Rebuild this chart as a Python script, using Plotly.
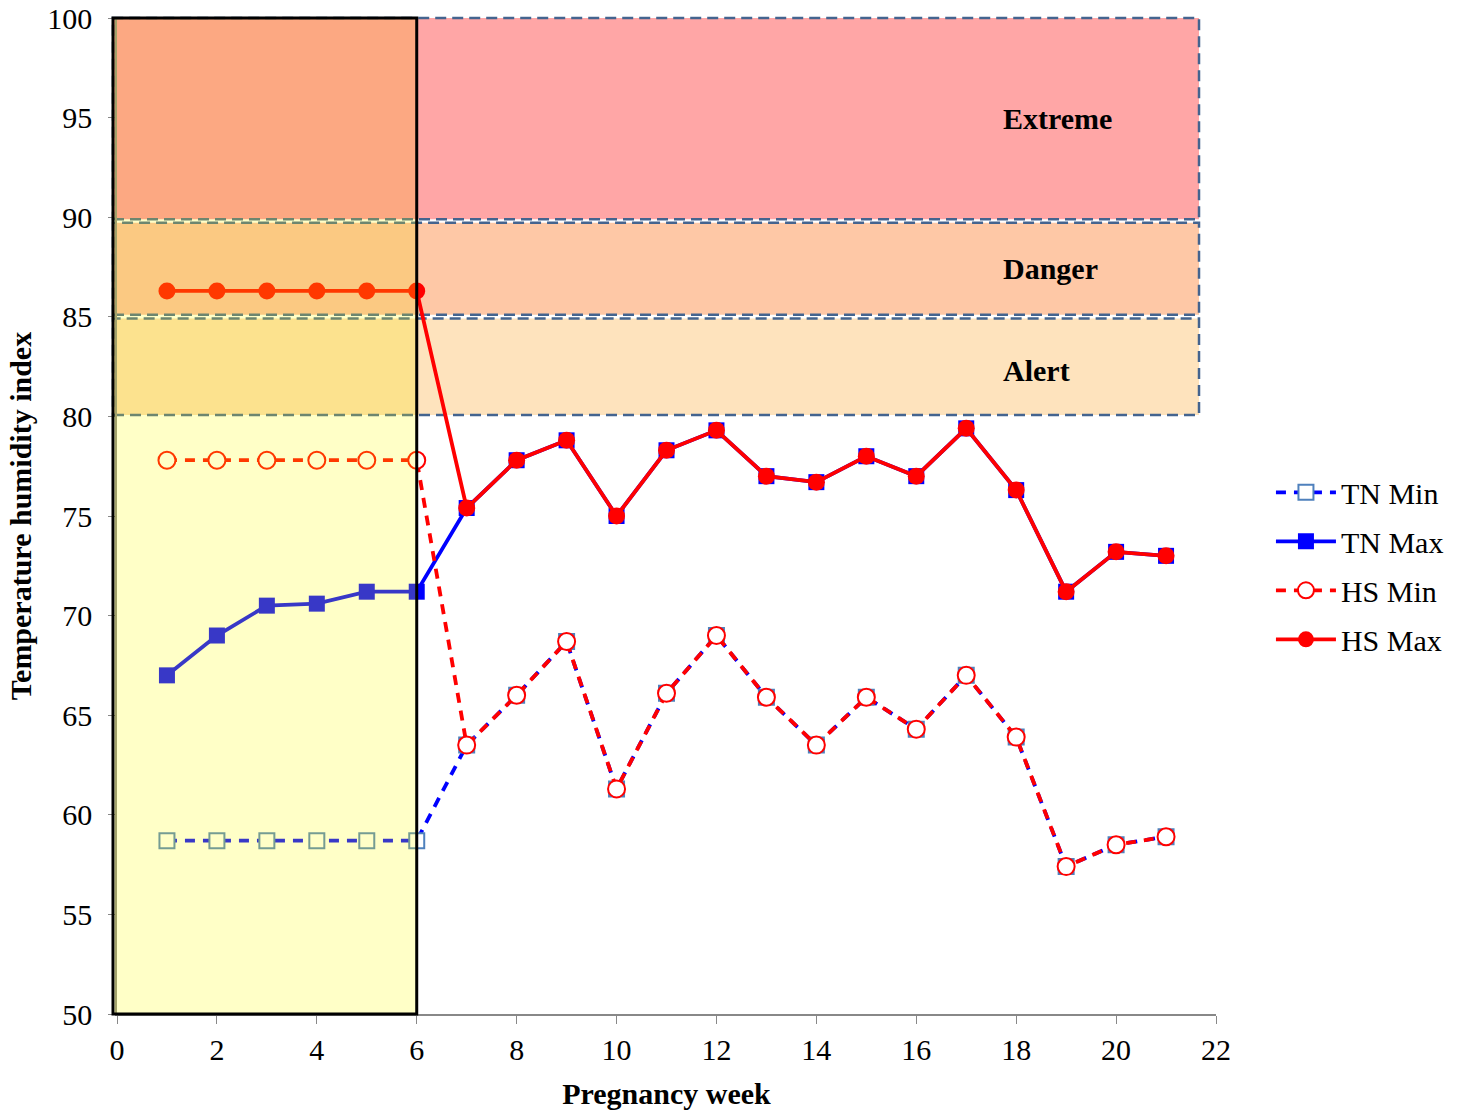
import plotly.graph_objects as go

weeks = list(range(1, 22))
tn_min = [58.7, 58.7, 58.7, 58.7, 58.7, 58.7,
          63.5, 66.0, 68.7, 61.3, 66.1, 69.0, 65.9, 63.5, 65.9, 64.3, 67.0, 63.9, 57.4, 58.5, 58.9]
tn_max = [67.0, 69.0, 70.5, 70.6, 71.2, 71.2,
          75.4, 77.8, 78.8, 75.0, 78.3, 79.3, 77.0, 76.7, 78.0, 77.0, 79.4, 76.3, 71.2, 73.2, 73.0]
hs_min = [77.8, 77.8, 77.8, 77.8, 77.8, 77.8,
          63.5, 66.0, 68.7, 61.3, 66.1, 69.0, 65.9, 63.5, 65.9, 64.3, 67.0, 63.9, 57.4, 58.5, 58.9]
hs_max = [86.3, 86.3, 86.3, 86.3, 86.3, 86.3,
          75.4, 77.8, 78.8, 75.0, 78.3, 79.3, 77.0, 76.7, 78.0, 77.0, 79.4, 76.3, 71.2, 73.2, 73.0]

# THI zones: name, lower, upper, colour (outside / inside the highlighted period)
zone_names = ["Extreme", "Danger", "Alert"]
zone_low = [89.9, 85.1, 80.07]
zone_high = [100.0, 89.72, 84.92]
zone_color = ["#ffa6a6", "#fec8a6", "#fee3bd"]
zone_color_in = ["#fb90a7", "#fabaa7", "#fcdab7"]
zone_label_y = [94.95, 87.4, 82.3]
zone_label_x = 17.7
zone_right = 21.66
period_start, period_end = -0.08, 6

XMIN, XMAX, YMIN, YMAX = 0, 22, 50, 100
def px_(v): return (v - XMIN) / (XMAX - XMIN)
def py_(v): return (v - YMIN) / (YMAX - YMIN)

FONT = "Liberation Serif"
FS = 30
LW = 3.8
fig = go.Figure()

fig.add_trace(go.Scatter(x=weeks, y=tn_min, name="TN Min", mode="lines+markers",
                         line=dict(color="#0000ff", width=LW, dash="10px,8px"),
                         marker=dict(symbol="square", size=15, color="white",
                                     line=dict(color="#4f81bd", width=2)),
                         legendgroup="a"))
fig.add_trace(go.Scatter(x=weeks, y=tn_max, name="TN Max", mode="lines+markers",
                         line=dict(color="#0000ff", width=LW),
                         marker=dict(symbol="square", size=16, color="#0000ff"),
                         legendgroup="b"))
fig.add_trace(go.Scatter(x=weeks, y=hs_min, name="HS Min", mode="lines+markers",
                         line=dict(color="#ff0000", width=LW, dash="10px,8px"),
                         marker=dict(symbol="circle", size=17, color="white",
                                     line=dict(color="#ff0000", width=2)),
                         legendgroup="c"))
fig.add_trace(go.Scatter(x=weeks, y=hs_max, name="HS Max", mode="lines+markers",
                         line=dict(color="#ff0000", width=LW),
                         marker=dict(symbol="circle", size=17, color="#ff0000"),
                         legendgroup="d"))

shapes = []
for lo, hi, c, ci in zip(zone_low, zone_high, zone_color, zone_color_in):
    shapes.append(dict(type="rect", xref="paper", yref="paper", layer="below",
                       x0=px_(period_end), x1=px_(zone_right), y0=py_(lo), y1=py_(hi),
                       fillcolor=c, line=dict(width=0)))
    shapes.append(dict(type="rect", xref="paper", yref="paper", layer="below",
                       x0=px_(period_start), x1=px_(period_end), y0=py_(lo), y1=py_(hi),
                       fillcolor=ci, line=dict(width=0)))
for lo, hi in zip(zone_low, zone_high):
    shapes.append(dict(type="rect", xref="paper", yref="paper", layer="below",
                       x0=px_(period_start), x1=px_(zone_right), y0=py_(lo), y1=py_(hi),
                       fillcolor="rgba(0,0,0,0)",
                       line=dict(color="#44648f", width=2.5, dash="11px,6px")))
shapes.append(dict(type="rect", xref="paper", yref="paper", layer="above",
                   x0=px_(period_start), x1=px_(period_end), y0=0, y1=1,
                   fillcolor="rgba(255,255,0,0.22)", line=dict(width=0)))
shapes.append(dict(type="rect", xref="paper", yref="paper", layer="above",
                   x0=px_(period_start), x1=px_(period_end), y0=0, y1=1,
                   fillcolor="rgba(0,0,0,0)", line=dict(color="black", width=3)))

annotations = []
for name, ly in zip(zone_names, zone_label_y):
    annotations.append(dict(x=zone_label_x, y=ly, xref="x", yref="y", text="<b>%s</b>" % name,
                            showarrow=False, xanchor="left", yanchor="middle",
                            font=dict(family=FONT, size=FS, color="black")))

fig.update_layout(
    width=1466, height=1110,
    margin=dict(l=117, r=250, t=18, b=96, autoexpand=False),
    plot_bgcolor="white", paper_bgcolor="white",
    font=dict(family=FONT, size=FS, color="black"),
    shapes=shapes, annotations=annotations,
    showlegend=True,
    legend=dict(x=1.05, xanchor="left", y=0.45, yanchor="middle",
                font=dict(family=FONT, size=FS, color="black"),
                itemwidth=60,
                tracegroupgap=7, bgcolor="rgba(0,0,0,0)", traceorder="grouped"),
    xaxis=dict(range=[XMIN, XMAX], tickvals=list(range(0, 23, 2)), showgrid=False, zeroline=False,
               showline=True, linecolor="#888888", linewidth=1.5, ticks="outside", ticklen=8,
               tickcolor="#888888", tickfont=dict(family=FONT, size=FS),
               title=dict(text="<b>Pregnancy week</b>", font=dict(family=FONT, size=FS), standoff=24)),
    yaxis=dict(range=[YMIN, YMAX], tickvals=list(range(50, 101, 5)), showgrid=False, zeroline=False,
               showline=True, linecolor="#888888", linewidth=1.5, ticks="outside", ticklen=7,
               tickcolor="#888888", tickfont=dict(family=FONT, size=FS), ticklabelstandoff=10,
               ticklabeloverflow="allow",
               title=dict(text="<b>Temperature humidity index</b>", font=dict(family=FONT, size=FS),
                          standoff=7)),
)

fig.write_html("out.html", config={"displayModeBar": False},
               post_script="document.body.style.margin='0';document.body.style.overflow='hidden';")
